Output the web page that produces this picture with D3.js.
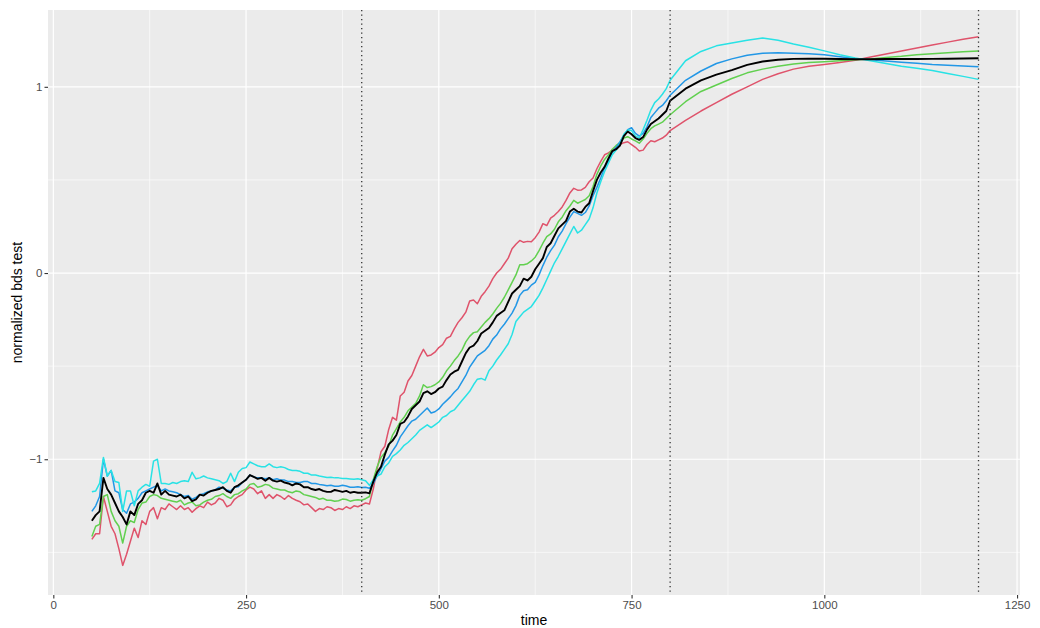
<!DOCTYPE html>
<html>
<head>
<meta charset="utf-8">
<style>
  body { margin: 0; background: #fff; }
  svg text { font-family: "Liberation Sans", Arial, sans-serif; }
</style>
<script src="https://d3js.org/d3.v7.min.js"></script>
</head>
<body>
<script>
// sample times (finer steps where the curves are noisy)
const time = [50,55,60,65,70,75,80,85,90,95,100,105,110,115,120,125,130,135,140,145,150,155,
  160,165,170,175,180,185,190,195,200,205,210,215,220,225,230,235,240,245,250,255,
  260,265,270,275,280,285,290,295,300,305,310,315,320,325,330,335,340,345,350,355,
  360,365,370,375,380,385,390,395,400,405,
  410,415,420,425,430,435,440,445,450,455,460,465,470,475,480,485,490,495,500,505,
  510,515,520,525,530,535,540,545,550,555,560,565,570,575,580,585,590,595,600,605,
  610,615,620,625,630,635,640,645,650,655,660,665,670,675,680,685,690,695,700,705,
  710,715,720,725,730,735,740,745,750,755,760,765,770,775,780,785,790,795,800,
  820,840,860,880,900,920,940,960,980,1000,1020,1040,1060,1080,1100,1120,1140,1160,1180,1200];

const red = [-1.43,-1.40,-1.40,-1.20,-1.28,-1.36,-1.40,-1.48,-1.57,-1.51,-1.44,-1.37,-1.42,-1.33,-1.35,-1.28,-1.26,-1.32,-1.26,-1.27,-1.24,-1.255,
  -1.27,-1.25,-1.27,-1.26,-1.285,-1.265,-1.25,-1.26,-1.23,-1.245,-1.235,-1.21,-1.22,-1.255,-1.245,-1.215,-1.20,-1.19,-1.165,-1.15,
  -1.16,-1.185,-1.17,-1.21,-1.19,-1.21,-1.19,-1.20,-1.215,-1.195,-1.21,-1.22,-1.228,-1.245,-1.24,-1.26,-1.28,-1.265,-1.27,-1.255,
  -1.26,-1.275,-1.265,-1.27,-1.255,-1.265,-1.25,-1.255,-1.245,-1.235,
  -1.24,-1.16,-1.05,-0.96,-0.93,-0.84,-0.775,-0.79,-0.66,-0.64,-0.58,-0.55,-0.50,-0.45,-0.41,-0.445,-0.44,-0.425,-0.40,-0.385,
  -0.35,-0.34,-0.30,-0.265,-0.24,-0.21,-0.15,-0.145,-0.165,-0.125,-0.10,-0.07,-0.03,0.0,0.02,0.05,0.08,0.13,0.155,0.175,
  0.165,0.17,0.168,0.19,0.22,0.265,0.255,0.295,0.31,0.33,0.355,0.39,0.43,0.455,0.445,0.446,0.46,0.49,0.51,0.56,
  0.60,0.635,0.645,0.66,0.67,0.69,0.70,0.705,0.69,0.675,0.655,0.66,0.69,0.71,0.705,0.715,0.725,0.74,0.765,
  0.82,0.87,0.915,0.96,1.00,1.04,1.07,1.095,1.11,1.12,1.13,1.143,1.16,1.176,1.192,1.208,1.224,1.24,1.255,1.269];

const green = [-1.415,-1.36,-1.35,-1.20,-1.19,-1.28,-1.33,-1.36,-1.45,-1.36,-1.33,-1.34,-1.27,-1.235,-1.23,-1.20,-1.19,-1.195,-1.21,-1.215,-1.22,-1.225,
  -1.23,-1.22,-1.245,-1.235,-1.23,-1.25,-1.245,-1.23,-1.22,-1.215,-1.20,-1.195,-1.185,-1.20,-1.21,-1.19,-1.185,-1.17,-1.16,-1.135,
  -1.13,-1.15,-1.145,-1.135,-1.14,-1.155,-1.16,-1.165,-1.165,-1.175,-1.18,-1.17,-1.175,-1.19,-1.195,-1.20,-1.205,-1.215,-1.21,-1.22,
  -1.22,-1.226,-1.223,-1.214,-1.216,-1.225,-1.22,-1.218,-1.22,-1.212,
  -1.20,-1.11,-1.04,-0.99,-0.965,-0.93,-0.87,-0.835,-0.80,-0.775,-0.74,-0.72,-0.70,-0.66,-0.60,-0.615,-0.61,-0.60,-0.585,-0.56,
  -0.525,-0.50,-0.47,-0.445,-0.414,-0.37,-0.34,-0.32,-0.315,-0.29,-0.265,-0.245,-0.22,-0.19,-0.163,-0.13,-0.09,-0.05,-0.01,0.045,
  0.045,0.05,0.065,0.085,0.12,0.16,0.195,0.21,0.235,0.275,0.30,0.335,0.36,0.39,0.375,0.385,0.395,0.415,0.465,0.53,
  0.575,0.61,0.635,0.665,0.685,0.70,0.725,0.732,0.72,0.71,0.697,0.72,0.75,0.775,0.79,0.80,0.81,0.83,0.85,
  0.92,0.975,1.01,1.045,1.075,1.095,1.11,1.122,1.13,1.135,1.14,1.145,1.15,1.158,1.164,1.172,1.178,1.183,1.188,1.192];

const blue = [-1.28,-1.25,-1.20,-1.00,-1.09,-1.06,-1.17,-1.18,-1.27,-1.29,-1.24,-1.23,-1.21,-1.18,-1.17,-1.16,-1.15,-1.14,-1.17,-1.16,-1.17,-1.175,
  -1.18,-1.19,-1.20,-1.195,-1.215,-1.205,-1.19,-1.185,-1.175,-1.17,-1.165,-1.15,-1.156,-1.165,-1.17,-1.15,-1.148,-1.125,-1.11,-1.085,
  -1.095,-1.10,-1.10,-1.105,-1.10,-1.11,-1.105,-1.112,-1.112,-1.12,-1.12,-1.125,-1.125,-1.12,-1.12,-1.13,-1.13,-1.135,-1.138,-1.142,
  -1.14,-1.145,-1.145,-1.14,-1.144,-1.15,-1.15,-1.148,-1.152,-1.15,
  -1.156,-1.13,-1.09,-1.05,-1.01,-0.99,-0.955,-0.925,-0.88,-0.85,-0.82,-0.795,-0.785,-0.765,-0.745,-0.725,-0.752,-0.745,-0.73,-0.705,
  -0.685,-0.665,-0.64,-0.62,-0.585,-0.55,-0.505,-0.475,-0.445,-0.43,-0.415,-0.39,-0.355,-0.333,-0.30,-0.275,-0.245,-0.215,-0.175,-0.12,
  -0.095,-0.09,-0.065,-0.05,-0.01,0.04,0.085,0.12,0.15,0.195,0.225,0.265,0.30,0.33,0.32,0.31,0.325,0.36,0.415,0.46,
  0.51,0.565,0.60,0.65,0.675,0.705,0.74,0.77,0.78,0.75,0.735,0.75,0.785,0.835,0.86,0.885,0.90,0.925,0.955,
  1.035,1.085,1.125,1.15,1.17,1.18,1.183,1.18,1.177,1.172,1.162,1.152,1.145,1.138,1.132,1.126,1.12,1.116,1.112,1.108];

const cyan = [-1.175,-1.17,-1.13,-0.99,-1.09,-1.06,-1.12,-1.125,-1.28,-1.17,-1.17,-1.25,-1.17,-1.15,-1.135,-1.145,-1.01,-1.00,-1.13,-1.13,-1.135,-1.125,
  -1.13,-1.12,-1.115,-1.12,-1.07,-1.105,-1.10,-1.09,-1.10,-1.105,-1.11,-1.115,-1.13,-1.12,-1.075,-1.12,-1.07,-1.05,-1.045,-1.015,
  -1.025,-1.035,-1.04,-1.04,-1.025,-1.04,-1.045,-1.04,-1.045,-1.055,-1.06,-1.06,-1.065,-1.075,-1.075,-1.085,-1.085,-1.09,-1.094,-1.098,
  -1.097,-1.10,-1.10,-1.103,-1.104,-1.106,-1.108,-1.105,-1.11,-1.115,
  -1.14,-1.11,-1.09,-1.08,-1.04,-1.02,-0.985,-0.97,-0.95,-0.925,-0.91,-0.89,-0.87,-0.845,-0.83,-0.815,-0.83,-0.815,-0.80,-0.775,
  -0.765,-0.745,-0.735,-0.71,-0.685,-0.66,-0.635,-0.60,-0.57,-0.566,-0.575,-0.525,-0.50,-0.467,-0.44,-0.41,-0.38,-0.33,-0.26,-0.235,
  -0.21,-0.195,-0.18,-0.15,-0.12,-0.08,-0.035,0.01,0.055,0.09,0.13,0.17,0.21,0.25,0.215,0.23,0.26,0.29,0.35,0.43,
  0.49,0.545,0.59,0.635,0.66,0.695,0.745,0.768,0.765,0.735,0.725,0.77,0.82,0.875,0.915,0.935,0.96,0.99,1.035,
  1.14,1.19,1.22,1.235,1.25,1.262,1.25,1.23,1.213,1.193,1.172,1.155,1.14,1.125,1.11,1.10,1.088,1.072,1.056,1.04];

const black = [-1.33,-1.30,-1.28,-1.10,-1.16,-1.19,-1.235,-1.28,-1.31,-1.35,-1.28,-1.30,-1.24,-1.22,-1.18,-1.17,-1.18,-1.13,-1.19,-1.17,-1.19,-1.195,
  -1.20,-1.19,-1.21,-1.20,-1.225,-1.215,-1.19,-1.195,-1.18,-1.17,-1.165,-1.16,-1.15,-1.17,-1.18,-1.15,-1.14,-1.125,-1.11,-1.085,
  -1.095,-1.105,-1.10,-1.115,-1.10,-1.115,-1.12,-1.115,-1.125,-1.13,-1.14,-1.13,-1.135,-1.15,-1.15,-1.16,-1.165,-1.16,-1.17,-1.175,
  -1.175,-1.165,-1.17,-1.175,-1.17,-1.18,-1.175,-1.18,-1.18,-1.178,
  -1.183,-1.12,-1.07,-1.04,-0.975,-0.92,-0.90,-0.87,-0.81,-0.80,-0.77,-0.73,-0.71,-0.69,-0.645,-0.635,-0.65,-0.64,-0.62,-0.61,
  -0.575,-0.545,-0.53,-0.52,-0.475,-0.43,-0.40,-0.39,-0.365,-0.325,-0.31,-0.295,-0.265,-0.23,-0.215,-0.20,-0.155,-0.11,-0.09,-0.07,
  -0.03,-0.04,-0.02,0.02,0.05,0.08,0.14,0.16,0.20,0.24,0.26,0.28,0.33,0.345,0.33,0.325,0.355,0.375,0.44,0.50,
  0.54,0.57,0.615,0.655,0.665,0.685,0.735,0.76,0.745,0.725,0.715,0.73,0.77,0.80,0.815,0.83,0.85,0.87,0.925,
  0.99,1.035,1.065,1.09,1.118,1.136,1.145,1.15,1.151,1.151,1.149,1.148,1.148,1.149,1.149,1.149,1.150,1.151,1.152,1.153];

const xTicks = [0, 250, 500, 750, 1000, 1250];
const xMinor = [125, 375, 625, 875, 1125];
const yTicks = [-1, 0, 1];
const yMinor = [-1.5, -0.5, 0.5];
const breaks = [400, 800, 1200];

const series = [
  {name: "red", values: red, color: "#DF536B", width: 1.5},
  {name: "green", values: green, color: "#61D04F", width: 1.5},
  {name: "blue", values: blue, color: "#2297E6", width: 1.5},
  {name: "cyan", values: cyan, color: "#28E2E5", width: 1.5},
  {name: "black", values: black, color: "#000000", width: 1.9}
];

const w = 1040, h = 628;
const pLeft = 48, pRight = 1020, pTop = 10, pBottom = 595;

const svg = d3.select("body").append("svg")
  .attr("width", w).attr("height", h);

const x = d3.scaleLinear().domain([-6.9, 1253.8]).range([pLeft, pRight]);
const y = d3.scaleLinear().domain([-1.729, 1.4125]).range([pBottom, pTop]);

svg.append("rect")
  .attr("x", pLeft).attr("y", pTop)
  .attr("width", pRight - pLeft).attr("height", pBottom - pTop)
  .attr("fill", "#EBEBEB");

// minor grid
svg.append("g").selectAll("line").data(xMinor).join("line")
  .attr("x1", d => x(d)).attr("x2", d => x(d))
  .attr("y1", pTop).attr("y2", pBottom)
  .attr("stroke", "#fff").attr("stroke-width", 0.6);
svg.append("g").selectAll("line").data(yMinor).join("line")
  .attr("x1", pLeft).attr("x2", pRight)
  .attr("y1", d => y(d)).attr("y2", d => y(d))
  .attr("stroke", "#fff").attr("stroke-width", 0.6);

// major grid
svg.append("g").selectAll("line").data(xTicks).join("line")
  .attr("x1", d => x(d)).attr("x2", d => x(d))
  .attr("y1", pTop).attr("y2", pBottom)
  .attr("stroke", "#fff").attr("stroke-width", 1.2);
svg.append("g").selectAll("line").data(yTicks).join("line")
  .attr("x1", pLeft).attr("x2", pRight)
  .attr("y1", d => y(d)).attr("y2", d => y(d))
  .attr("stroke", "#fff").attr("stroke-width", 1.2);

// series
const line = d3.line()
  .x((d, i) => x(time[i]))
  .y(d => y(d));

svg.append("g").selectAll("path").data(series).join("path")
  .attr("d", d => line(d.values))
  .attr("fill", "none")
  .attr("stroke", d => d.color)
  .attr("stroke-width", d => d.width)
  .attr("stroke-linejoin", "round");

// dotted breakpoints
svg.append("g").selectAll("line").data(breaks).join("line")
  .attr("x1", d => x(d)).attr("x2", d => x(d))
  .attr("y1", pTop).attr("y2", pBottom)
  .attr("stroke", "#333")
  .attr("stroke-width", 1.3)
  .attr("stroke-dasharray", "1.3,3.2");

// axes
const xAxis = d3.axisBottom(x).tickValues(xTicks).tickSize(3.5).tickPadding(2).tickFormat(d3.format("d"));
const yAxis = d3.axisLeft(y).tickValues(yTicks).tickSize(3.5).tickPadding(2).tickFormat(d3.format("d"));

const gx = svg.append("g").attr("transform", `translate(0,${pBottom})`).call(xAxis);
const gy = svg.append("g").attr("transform", `translate(${pLeft},0)`).call(yAxis);
[gx, gy].forEach(g => {
  g.select(".domain").remove();
  g.selectAll(".tick line").attr("stroke", "#333").attr("stroke-width", 1.1);
  g.selectAll(".tick text").attr("fill", "#4D4D4D").attr("font-size", 11.5)
    .style("font-family", "'Liberation Sans', Arial, sans-serif");
});

svg.append("text")
  .attr("x", (pLeft + pRight) / 2).attr("y", 625)
  .attr("text-anchor", "middle")
  .attr("font-size", 14)
  .text("time");

svg.append("text")
  .attr("transform", `translate(22,${(pTop + pBottom) / 2}) rotate(-90)`)
  .attr("text-anchor", "middle")
  .attr("font-size", 14)
  .text("normalized bds test");
</script>
</body>
</html>
